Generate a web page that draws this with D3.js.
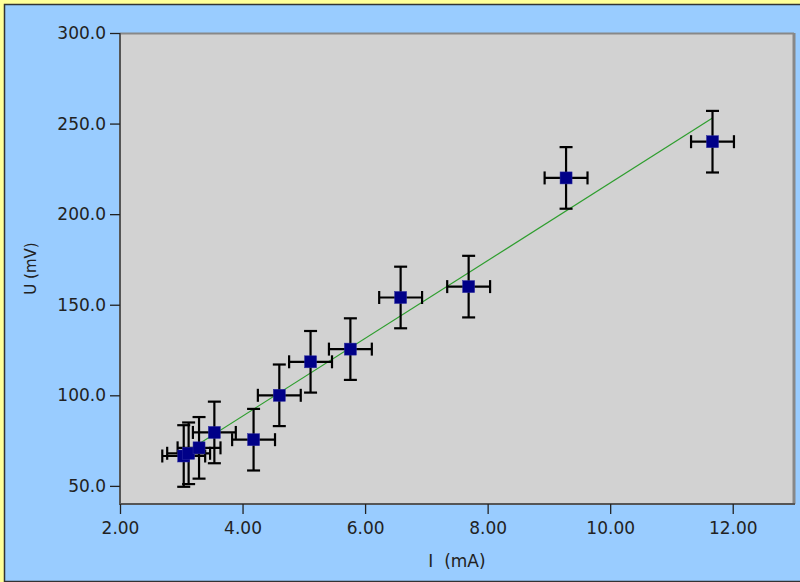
<!DOCTYPE html>
<html><head><meta charset="utf-8">
<script src="https://cdn.jsdelivr.net/npm/d3@7"></script>
<style>body{margin:0;background:#ffff99;}svg{display:block;}text{font-family:"DejaVu Sans",sans-serif;fill:#222;}</style>
</head><body>
<script>
// Data (I in mA, U in mV)
const currentI = [3.04, 3.12, 3.29, 3.54, 4.18, 4.60, 5.11, 5.76, 6.58, 7.69, 9.28, 11.67];
const voltageU = [66.5, 68.0, 71.0, 79.5, 75.5, 100.0, 118.5, 125.5, 154.0, 160.0, 220.0, 240.0];
const errI = [0.35, 0.35, 0.35, 0.35, 0.35, 0.35, 0.35, 0.35, 0.35, 0.35, 0.35, 0.35];
const errU = [17, 17, 17, 17, 17, 17, 17, 17, 17, 17, 17, 17];
const fitSlope = 21.46, fitIntercept = 2.66;
const xTicks = [2, 4, 6, 8, 10, 12];
const yTicks = [50, 100, 150, 200, 250, 300];
const xLabel = "I  (mA)", yLabel = "U (mV)";

const W = 800, H = 582;
const m = {left:120, top:33, right:794, bottom:504};
const svg = d3.select("body").append("svg").attr("width", W).attr("height", H);
svg.append("rect").attr("x",0).attr("y",0).attr("width",W).attr("height",H).attr("fill","#ffff99");
svg.append("rect").attr("x",4.5).attr("y",4.5).attr("width",W).attr("height",577).attr("fill","#99ccff").attr("stroke","#333").attr("stroke-width",1.5);

const x = d3.scaleLinear().domain([2, 13]).range([m.left, m.right]);
const y = d3.scaleLinear().domain([40, 300]).range([m.bottom, m.top]);

svg.append("rect").attr("x",m.left).attr("y",m.top).attr("width",m.right-m.left).attr("height",m.bottom-m.top)
  .attr("fill","#d2d2d2");
// plot borders
svg.append("line").attr("x1",m.left).attr("x2",m.right).attr("y1",m.top+0.5).attr("y2",m.top+0.5).attr("stroke","#888").attr("stroke-width",2);
svg.append("line").attr("x1",m.right).attr("x2",m.right).attr("y1",m.top).attr("y2",m.bottom).attr("stroke","#888").attr("stroke-width",3);
svg.append("line").attr("x1",m.left).attr("x2",m.left).attr("y1",m.top).attr("y2",m.bottom+1).attr("stroke","#555").attr("stroke-width",2);
svg.append("line").attr("x1",m.left).attr("x2",m.right+1).attr("y1",m.bottom).attr("y2",m.bottom).attr("stroke","#555").attr("stroke-width",2);

const xAxis = svg.append("g").attr("transform",`translate(0,${m.bottom})`)
  .call(d3.axisBottom(x).tickValues(xTicks).tickFormat(d3.format(".2f")).tickSize(10).tickPadding(8));
const yAxis = svg.append("g").attr("transform",`translate(${m.left},0)`)
  .call(d3.axisLeft(y).tickValues(yTicks).tickFormat(d3.format(".1f")).tickSize(10).tickPadding(4));
[xAxis, yAxis].forEach(g => {
  g.select(".domain").remove();
  g.selectAll(".tick line").attr("stroke","#222").attr("stroke-width",1.3);
  g.selectAll(".tick text").style("font-size","17px").style("fill","#222").attr("font-family","DejaVu Sans");
});

svg.append("text").attr("x",(m.left+m.right)/2).attr("y",567).attr("text-anchor","middle")
  .style("font-size","17px").style("white-space","pre").attr("xml:space","preserve").text(xLabel);
svg.append("text").attr("transform",`translate(36,${(m.top+m.bottom)/2}) rotate(-90)`).attr("text-anchor","middle")
  .style("font-size","15px").text(yLabel);

const data = currentI.map((v,i)=>({x:v, y:voltageU[i], ex:errI[i], ey:errU[i]}));
const plot = svg.append("g");
// fit line
const xmin = d3.min(currentI), xmax = d3.max(currentI);
plot.append("line").attr("x1",x(xmin)).attr("y1",y(fitSlope*xmin+fitIntercept))
  .attr("x2",x(xmax)).attr("y2",y(fitSlope*xmax+fitIntercept)).attr("stroke","#2e9e2e").attr("stroke-width",1.2);

const cap = 6.5;
const eb = plot.selectAll("g.eb").data(data).join("g").attr("stroke","#000").attr("stroke-width",2.2);
eb.append("line").attr("x1",d=>x(d.x)).attr("x2",d=>x(d.x)).attr("y1",d=>y(d.y-d.ey)).attr("y2",d=>y(d.y+d.ey));
eb.append("line").attr("x1",d=>x(d.x)-cap).attr("x2",d=>x(d.x)+cap).attr("y1",d=>y(d.y-d.ey)).attr("y2",d=>y(d.y-d.ey));
eb.append("line").attr("x1",d=>x(d.x)-cap).attr("x2",d=>x(d.x)+cap).attr("y1",d=>y(d.y+d.ey)).attr("y2",d=>y(d.y+d.ey));
eb.append("line").attr("x1",d=>x(d.x-d.ex)).attr("x2",d=>x(d.x+d.ex)).attr("y1",d=>y(d.y)).attr("y2",d=>y(d.y));
eb.append("line").attr("x1",d=>x(d.x-d.ex)).attr("x2",d=>x(d.x-d.ex)).attr("y1",d=>y(d.y)-cap).attr("y2",d=>y(d.y)+cap);
eb.append("line").attr("x1",d=>x(d.x+d.ex)).attr("x2",d=>x(d.x+d.ex)).attr("y1",d=>y(d.y)-cap).attr("y2",d=>y(d.y)+cap);

plot.selectAll("rect.pt").data(data).join("rect").attr("class","pt")
  .attr("x",d=>x(d.x)-6).attr("y",d=>y(d.y)-6).attr("width",12).attr("height",12)
  .attr("fill","#000088").attr("stroke","#2a2aa0").attr("stroke-width",0.5);
</script>
</body></html>
